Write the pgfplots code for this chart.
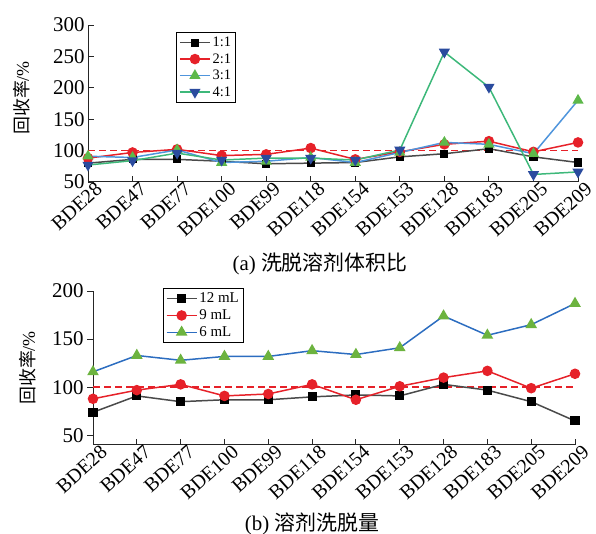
\documentclass[border=0pt]{standalone}
\usepackage{pgfplots}
\pgfplotsset{compat=1.18}
\usepackage{pgfplotstable}
\usepackage{fontspec}
\setmainfont{Liberation Serif}
\newfontfamily\cjk{Noto Sans CJK SC}

\definecolor{cBlack}{HTML}{4A4A4A}
\definecolor{cRed}{HTML}{E62129}
\definecolor{cLightBlue}{HTML}{4F95DC}
\definecolor{cGreenMk}{HTML}{5DB84A}
\definecolor{cSeaGreen}{HTML}{3DB87A}
\definecolor{cBlueMk}{HTML}{2A4B9E}
\definecolor{cBlue}{HTML}{2C6DC0}
\definecolor{cGreen}{HTML}{6CB33F}

% (a) recovery for different elution solvent volume ratios
\pgfplotstableread{
idx r11 r21 r31 r41
0   80  88  91  77
1   86  97  89  84
2   86  102 101 96
3   83  92  81  85
4   79  94  83  88
5   80  104 89  88
6   81  86  81  85
7   90  98  97  101
8   95  110 113 257
9   103 115 110 201
10  90  98  95  62
11  81  113 180 66
}\ratiotable

% (b) recovery for different elution volumes
\pgfplotstableread{
idx v12 v9  v6
0   74  88  116
1   91  97  133
2   85  103 128
3   87  91  132
4   87  93  132
5   90  103 138
6   92  87  134
7   91  101 141
8   103 110 174
9   97  117 154
10  85  99  165
11  65  114 187
}\volumetable

% 100 % reference line
\pgfplotstableread{
x y
0 100
11 100
}\reftable

\pgfplotsset{
  panel/.style={
    scale only axis,
    anchor=south west,
    axis lines=left,
    axis line style={-, line width=1pt, color=black!85},
    xmin=0, xmax=11,
    xtick={0,...,11},
    xticklabels={BDE28,BDE47,BDE77,BDE100,BDE99,BDE118,BDE154,BDE153,BDE128,BDE183,BDE205,BDE209},
    x tick label style={rotate=42, anchor=north east, inner sep=0.5pt, xshift=6bp, yshift=-3bp,
      font=\fontsize{20}{20}\selectfont},
    y tick label style={font=\fontsize{21}{21}\selectfont},
    /pgf/number format/assume math mode=true,
    major tick length=6bp,
    tick style={line width=0.9pt, color=black!85},
    clip=false,
    legend cell align=left,
    legend image code/.code={\draw[line width=1.5pt, mark repeat=2, mark phase=2]
      plot coordinates {(0bp,0bp) (15bp,0bp) (30bp,0bp)};},
  },
  ln/.style={line width=1.5pt},
  refline/.style={cRed, line width=1.5pt, dash pattern=on 7bp off 4bp, forget plot},
}

\begin{document}
\begin{tikzpicture}[x=1bp,y=1bp]

\begin{axis}[panel, at={(88bp,352bp)}, width=490bp, height=157bp,
  ymin=50, ymax=300, ytick={50,100,...,300},
  tick align=inside,
  legend style={at={(0.18,0.955)}, anchor=north west, draw=black, line width=1pt,
    font=\fontsize{14.5}{16}\selectfont, inner sep=2.5pt, row sep=1.5pt},
]
\addplot[refline] table[x=x, y=y] {\reftable};
\addplot[ln, cBlack, mark=square*, mark size=3.3bp, mark options={fill=black, draw=black}]
  table[x=idx, y=r11] {\ratiotable};
\addlegendentry{1:1}
\addplot[ln, cRed, mark=*, mark size=4.5bp, mark options={fill=cRed, draw=cRed}]
  table[x=idx, y=r21] {\ratiotable};
\addlegendentry{2:1}
\addplot[ln, cLightBlue, mark=triangle*, mark size=5bp, mark options={fill=cGreenMk, draw=cGreenMk}]
  table[x=idx, y=r31] {\ratiotable};
\addlegendentry{3:1}
\addplot[ln, cSeaGreen, mark=triangle*, mark size=5bp, mark options={fill=cBlueMk, draw=cBlueMk, rotate=180}]
  table[x=idx, y=r41] {\ratiotable};
\addlegendentry{4:1}
\end{axis}

\begin{axis}[panel, at={(93bp,89bp)}, width=482bp, height=154bp,
  ymin=40, ymax=200, ytick={50,100,150,200},
  xtick align=inside, ytick align=outside,
  legend style={at={(0.145,1.02)}, anchor=north west, draw=black, line width=1pt,
    font=\fontsize{15}{17}\selectfont, inner sep=2.5pt, row sep=1.5pt},
]
\addplot[refline] table[x=x, y=y] {\reftable};
\addplot[ln, cBlack, mark=square*, mark size=3.8bp, mark options={fill=black, draw=black}]
  table[x=idx, y=v12] {\volumetable};
\addlegendentry{12 mL}
\addplot[ln, cRed, mark=*, mark size=4.5bp, mark options={fill=cRed, draw=cRed}]
  table[x=idx, y=v9] {\volumetable};
\addlegendentry{9 mL}
\addplot[ln, cBlue, mark=triangle*, mark size=5.3bp, mark options={fill=cGreen, draw=cGreen}]
  table[x=idx, y=v6] {\volumetable};
\addlegendentry{6 mL}
\end{axis}

% axis titles and panel captions
\node[rotate=90, font=\fontsize{18}{18}\selectfont] at (22,436) {{\cjk 回收率}/\%};
\node[rotate=90, font=\fontsize{18}{18}\selectfont] at (28,166) {{\cjk 回收率}/\%};
\node[font=\fontsize{21}{21}\selectfont] at (320,270) {(a) {\cjk 洗脱溶剂体积比}};
\node[font=\fontsize{21}{21}\selectfont] at (312,10) {(b) {\cjk 溶剂洗脱量}};

\pgfresetboundingbox
\useasboundingbox (0,0) rectangle (596,534);
\end{tikzpicture}
\end{document}
